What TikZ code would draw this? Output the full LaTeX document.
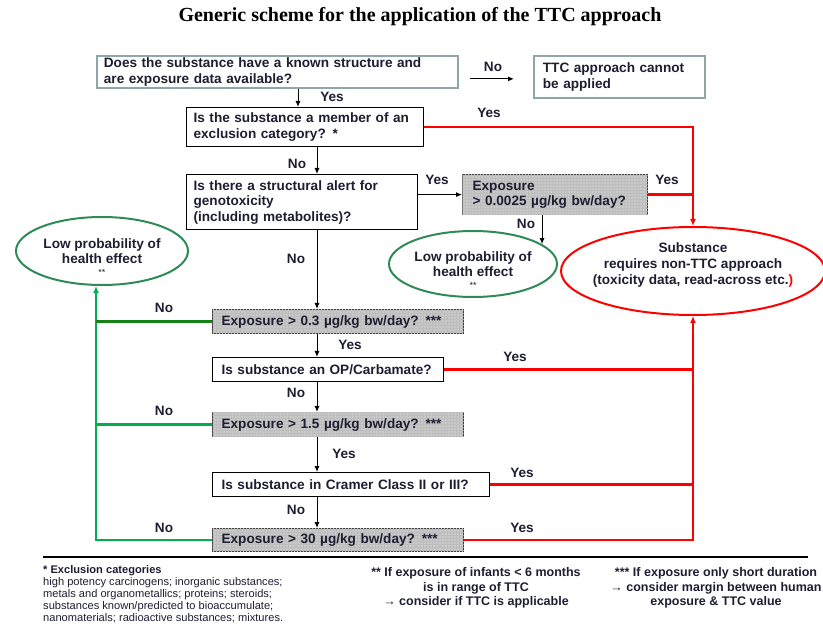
\documentclass[tikz,border=0pt]{standalone}
\usepackage{fontspec}
\setmainfont{Liberation Sans}
\newfontfamily\titlefont{Liberation Serif}
\usetikzlibrary{shapes.geometric,patterns,arrows.meta}
\definecolor{txtcol}{RGB}{30,30,50}
\definecolor{framecol}{RGB}{143,167,167}
\definecolor{redcol}{RGB}{255,0,0}
\definecolor{grncol}{RGB}{0,176,80}
\definecolor{dgrncol}{RGB}{20,130,20}
\definecolor{ovalgrn}{RGB}{46,139,87}
\def\boxfont{\fontsize{13.6}{15.5}\selectfont\bfseries}

\tikzset{
  qbox/.style={draw=black, line width=1.2pt, fill=white, anchor=north west, inner xsep=7pt, inner ysep=0pt, align=left, font=\boxfont, text=txtcol},
  ebox/.style={qbox, fill=gray!42, draw=black!75, postaction={pattern=grid, pattern color=gray!52}},
  oval/.style={ellipse, line width=2pt, inner sep=0pt},
  ovaltxt/.style={align=center, font=\fontsize{13.6}{15}\selectfont\bfseries, text=txtcol, inner sep=0pt},
  lbl/.style={font=\boxfont, text=txtcol, inner sep=0pt},
  arr/.style={draw=black, line width=1pt, -{Latex[length=6pt,width=5pt]}},
  redline/.style={draw=redcol, line width=2.4pt},
  grnline/.style={draw=grncol, line width=2.4pt}
}

\begin{document}
\begin{tikzpicture}[x=1pt,y=-1pt]
			\useasboundingbox (0,0) rectangle (823,631);
			%%%%% START %%%%%
			
			\node[font=\titlefont\fontsize{20}{24}\selectfont\bfseries, text=black] (title) at (420,17) {Generic scheme for the application of the TTC approach};
			
			\coordinate (acol) at (298,0);
			\coordinate (mcol) at (317,0);
			\coordinate (gcol) at (96,0);
			
			\node[qbox, draw=framecol, line width=1.8pt, text width=347pt, minimum height=32pt] (q1) at (96,55) {Does the substance have a known structure and\\are exposure data available?};
			\node[qbox, draw=framecol, line width=1.8pt, inner xsep=9pt, text width=153pt, minimum height=42pt] (na) at (533,55) {TTC approach cannot\\be applied};
			\node[qbox, text width=223pt, minimum height=39pt] (q2) at (186,107) {Is the substance a member of an\\exclusion category? *};
			\node[qbox, text width=217pt, minimum height=55pt] (q3) at (186,174) {Is there a structural alert for\\genotoxicity\\(including metabolites)?};
			\node[ebox, inner xsep=10pt, text width=165pt, minimum height=40pt] (e1) at (462,174) {Exposure\\> 0.0025 µg/kg bw/day?};
			
			\node[ebox, inner xsep=9pt, text width=233pt, minimum height=24pt] (e2) at (212,309) {Exposure > 0.3 µg/kg bw/day? ***};
			\node[qbox, inner xsep=9pt, text width=213pt, minimum height=24pt] (q4) at (212,357) {Is substance an OP/Carbamate?};
			\node[ebox, inner xsep=9pt, text width=233pt, minimum height=24pt] (e3) at (212,412) {Exposure > 1.5 µg/kg bw/day? ***};
			\node[qbox, inner xsep=9pt, text width=259pt, minimum height=24pt] (q5) at (212,472) {Is substance in Cramer Class II or III?};
			\node[ebox, inner xsep=9pt, text width=233pt, minimum height=23pt] (e4) at (212,528) {Exposure > 30 µg/kg bw/day? ***};
			
			% ovals
			\node[oval, draw=ovalgrn, minimum width=172pt, minimum height=68pt] (low1) at (102,251) {};
			\node[ovaltxt] (low1txt) at (102,257) {Low probability of\\health effect\\[-3pt]{\normalfont\fontsize{9}{9}\selectfont **}};
			\node[oval, draw=ovalgrn, minimum width=168pt, minimum height=66pt] (low2) at (473,264) {};
			\node[ovaltxt] (low2txt) at (473,270) {Low probability of\\health effect\\[-3pt]{\normalfont\fontsize{9}{9}\selectfont **}};
			\node[oval, draw=redcol, minimum width=264pt, minimum height=88pt] (nonttc) at (693,271) {};
			\node[ovaltxt, font=\fontsize{13.6}{16}\selectfont\bfseries] (nonttctxt) at (693,265) {Substance\\requires non-TTC approach\\(toxicity data, read-across etc.\textcolor{redcol}{)}};
			
			% black arrows
			\draw[arr] (acol |- q1.south) -- (acol |- q2.north);
			\draw[arr, shorten <=11pt, shorten >=19pt] ([yshift=-7pt]q1.east) -- ([yshift=-7pt]q1.east -| na.west);
			\draw[arr] (mcol |- q2.south) -- (mcol |- q3.north);
			\draw[arr] (q3.east |- e1.west) -- (e1.west);
			\draw[arr] (e1.south -| low2.16) -- (low2.16);
			\draw[arr] (mcol |- q3.south) -- (mcol |- e2.north);
			\draw[arr] (mcol |- e2.south) -- (mcol |- q4.north);
			\draw[arr] (mcol |- q4.south) -- (mcol |- e3.north);
			\draw[arr] (mcol |- e3.south) -- (mcol |- q5.north);
			\draw[arr] (mcol |- q5.south) -- (mcol |- e4.north);
			
			% red branch
			\draw[redline, -{Latex[length=7pt,width=6pt]}] (q2.east) -| (nonttc.north);
			\draw[redline] (e1.east) -- (e1.east -| nonttc.north);
			\draw[redline, -{Latex[length=7pt,width=6pt]}] (e4.east) -| (nonttc.south);
			\draw[redline] (q4.east) -- (q4.east -| nonttc.south);
			\draw[redline] (q5.east) -- (q5.east -| nonttc.south);
			
			% green branch
			\draw[grnline, -{Latex[length=7pt,width=6pt]}] (e4.west) -| (gcol |- low1.south);
			\draw[grnline, draw=dgrncol] (e2.west) -- (e2.west -| gcol);
			\draw[grnline] (e3.west) -- (e3.west -| gcol);
			
			% yes / no
			\node[lbl] (yes1) at (332,97) {Yes};
			\node[lbl] (no1) at (493,67) {No};
			\node[lbl] (yes2) at (489,113) {Yes};
			\node[lbl] (no2) at (297,164) {No};
			\node[lbl] (yes3) at (437,180) {Yes};
			\node[lbl] (yes4) at (667,180) {Yes};
			\node[lbl] (no3) at (526,224) {No};
			\node[lbl] (no4) at (296,259) {No};
			\node[lbl] (no5) at (164,308) {No};
			\node[lbl] (yes5) at (350,345) {Yes};
			\node[lbl] (yes6) at (515,357) {Yes};
			\node[lbl] (no6) at (296,393) {No};
			\node[lbl] (no7) at (164,411) {No};
			\node[lbl] (yes7) at (344,454) {Yes};
			\node[lbl] (yes8) at (522,473) {Yes};
			\node[lbl] (no8) at (296,510) {No};
			\node[lbl] (no9) at (164,528) {No};
			\node[lbl] (yes9) at (522,528) {Yes};
			
			% footnotes
			\draw[line width=1.8pt] (43,557) -- (808,557);
			\node[anchor=north west, align=left, font=\fontsize{11.1}{12}\selectfont, text=txtcol, inner sep=0pt] (excl) at (43,565) {\textbf{* Exclusion categories}\\high potency carcinogens; inorganic substances;\\metals and organometallics; proteins; steroids;\\substances known/predicted to bioaccumulate;\\nanomaterials; radioactive substances; mixtures.};
			\node[align=center, font=\fontsize{12.5}{14.5}\selectfont\bfseries, text=txtcol, inner sep=0pt] (infant) at (476,588) {** If exposure of infants < 6 months\\is in range of TTC\\→ consider if TTC is applicable};
			\node[align=center, font=\fontsize{12.5}{14.5}\selectfont\bfseries, text=txtcol, inner sep=0pt] (short) at (716,588) {*** If exposure only short duration\\→ consider margin between human\\exposure \& TTC value};
			
			%%%%% END %%%%%
\end{tikzpicture}
\end{document}
